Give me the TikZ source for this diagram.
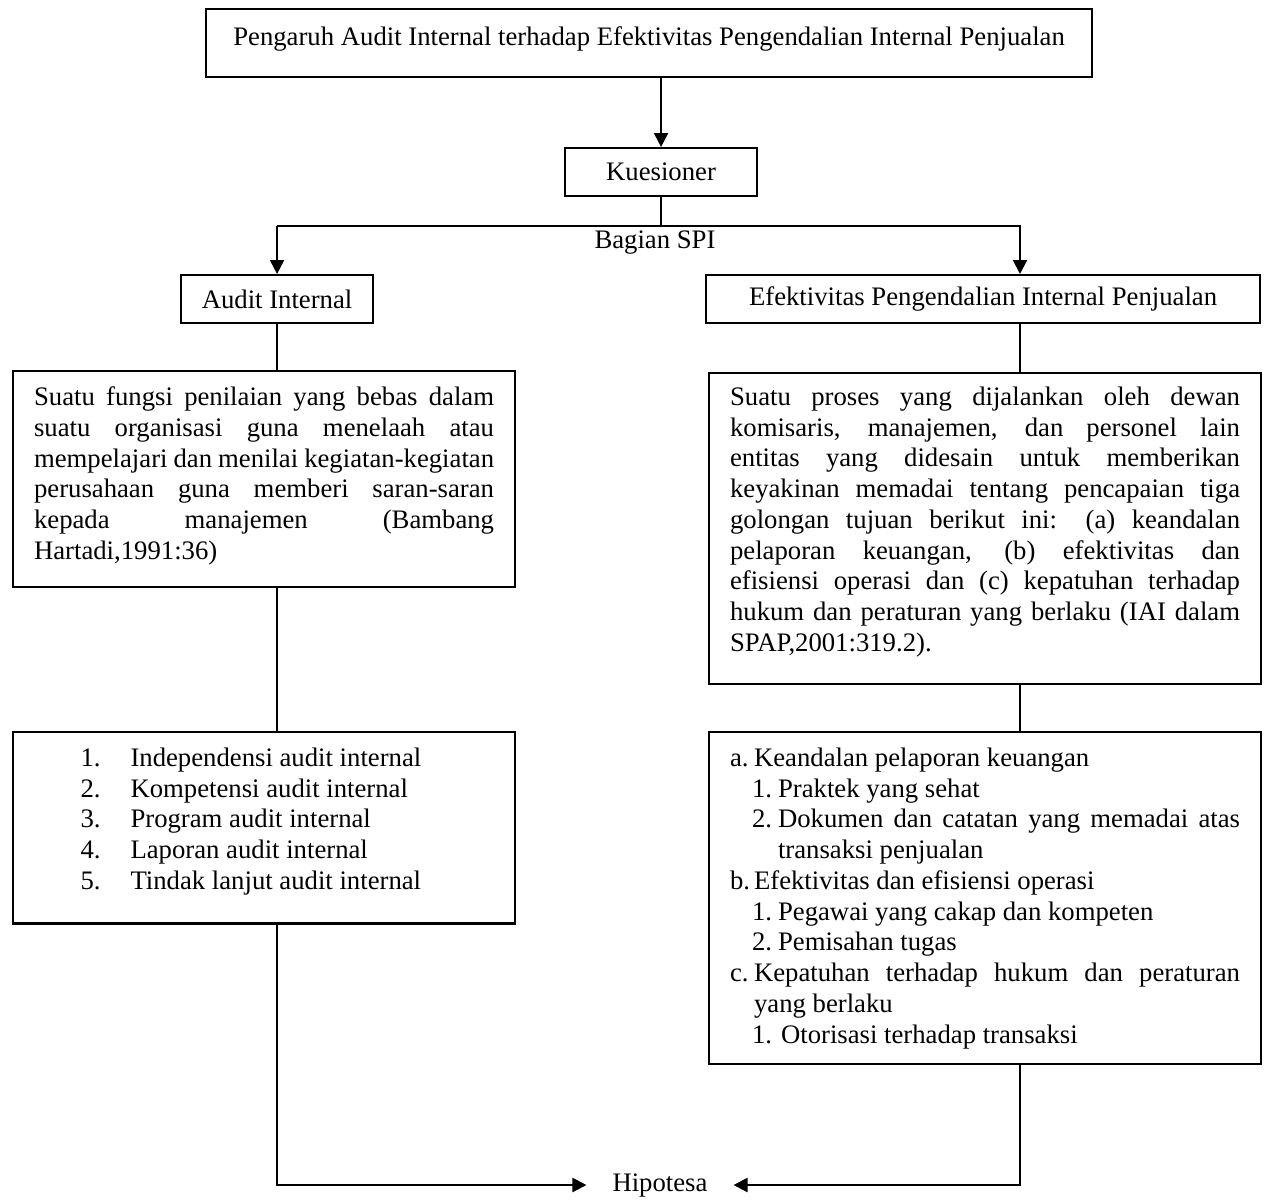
\documentclass[tikz,border=0pt]{standalone}
\usepackage{fontspec}
\setmainfont{Liberation Serif}
\usetikzlibrary{arrows.meta, positioning}

\hyphenpenalty=10000
\exhyphenpenalty=10000

% one item of a list: indent, label width, label, text
\newcommand{\butir}[4]{\par\noindent\leftskip=#1\hangindent=#2\hangafter=1\makebox[#2][l]{#3}#4\par}
% extra room under the text of a box
\newcommand{\ruang}[1]{\par\nointerlineskip\hbox{\rule{0pt}{#1}}}

\begin{document}
\begin{tikzpicture}[line width=1.2pt,
    every node/.style={font=\fontsize{15.2pt}{17.5pt}\selectfont},
    kotak/.style={draw, rectangle, inner ysep=2pt, anchor=north west},
    teks/.style={kotak, align=justify, inner xsep=0.42cm},
    panah/.style={-{Triangle[length=0.28cm, width=0.28cm]}}]
    \useasboundingbox (0,0) rectangle (25.28,-23.98);

    \node[kotak, minimum width=17.72cm, minimum height=1.36cm, text height=0.42cm, text depth=0.3cm] (judul) at (4.10,-0.15)
        {Pengaruh Audit Internal terhadap Efektivitas Pengendalian Internal Penjualan};
    \node[kotak, minimum width=3.84cm, minimum height=0.96cm] (kues) at (11.28,-2.94) {Kuesioner};
    \node (spi) at (13.10,-4.86) {Bagian SPI};
    \node[kotak, minimum width=3.84cm, minimum height=0.96cm] (ai) at (3.60,-5.48) {Audit Internal};
    \node[kotak, minimum width=11.08cm, minimum height=0.96cm] (epi) at (14.10,-5.48)
        {Efektivitas Pengendalian Internal Penjualan};

    \node[teks, text width=9.2cm, minimum height=4.32cm] (dai) at (0.24,-7.40)
        {Suatu fungsi penilaian yang bebas dalam\linebreak
         suatu organisasi guna menelaah atau\linebreak
         mempelajari dan menilai kegiatan-kegiatan\linebreak
         perusahaan guna memberi saran-saran\linebreak
         kepada manajemen (Bambang\linebreak
         Hartadi,1991:36)\ruang{0.12cm}};
    \node[teks, text width=10.2cm, minimum height=6.22cm] (dpi) at (14.16,-7.44)
        {Suatu proses yang dijalankan oleh dewan\linebreak
         komisaris, manajemen, dan personel lain\linebreak
         entitas yang didesain untuk memberikan\linebreak
         keyakinan memadai tentang pencapaian tiga\linebreak
         golongan tujuan berikut ini: (a) keandalan\linebreak
         pelaporan keuangan, (b) efektivitas dan\linebreak
         efisiensi operasi dan (c) kepatuhan terhadap\linebreak
         hukum dan peraturan yang berlaku (IAI dalam\linebreak
         SPAP,2001:319.2).\ruang{0.26cm}};

    \node[teks, text width=9.2cm, minimum height=3.80cm] (iai) at (0.24,-14.62)
        {\butir{0.93cm}{1.0cm}{1.}{Independensi audit internal}
         \butir{0.93cm}{1.0cm}{2.}{Kompetensi audit internal}
         \butir{0.93cm}{1.0cm}{3.}{Program audit internal}
         \butir{0.93cm}{1.0cm}{4.}{Laporan audit internal}
         \butir{0.93cm}{1.0cm}{5.}{Tindak lanjut audit internal}\ruang{0.5cm}};
    \node[teks, text width=10.2cm, minimum height=6.58cm] (ipi) at (14.16,-14.62)
        {\butir{0cm}{0.48cm}{a.}{Keandalan pelaporan keuangan}
         \butir{0.44cm}{0.52cm}{1.}{Praktek yang sehat}
         \butir{0.44cm}{0.52cm}{2.}{Dokumen dan catatan yang memadai atas\linebreak transaksi penjualan}
         \butir{0cm}{0.48cm}{b.}{Efektivitas dan efisiensi operasi}
         \butir{0.44cm}{0.52cm}{1.}{Pegawai yang cakap dan kompeten}
         \butir{0.44cm}{0.52cm}{2.}{Pemisahan tugas}
         \butir{0cm}{0.48cm}{c.}{Kepatuhan terhadap hukum dan peraturan\linebreak yang berlaku}
         \butir{0.44cm}{0.58cm}{1.}{Otorisasi terhadap transaksi}\ruang{0.24cm}};

    \node[inner xsep=0.5cm] (hip) at (13.20,-23.70) {Hipotesa};

    \coordinate (cabang) at (20.40,-4.52);

    \draw[panah] (judul.south -| kues) -- (kues.north);
    \draw (kues.south) -- (kues.south |- cabang);
    \draw[panah] (ai.north |- cabang) -- (ai.north);
    \draw[panah] (ai.north |- cabang) -- (cabang) -- (cabang |- epi.north);

    \draw (ai.south) -- (ai.south |- dai.north);
    \draw (ai.south |- dai.south) -- (ai.south |- iai.north);
    \draw[panah] (ai.south |- iai.south) |- (hip.west);

    \draw (cabang |- epi.south) -- (cabang |- dpi.north);
    \draw (cabang |- dpi.south) -- (cabang |- ipi.north);
    \draw[panah] (cabang |- ipi.south) |- (hip.east);
\end{tikzpicture}
\end{document}
